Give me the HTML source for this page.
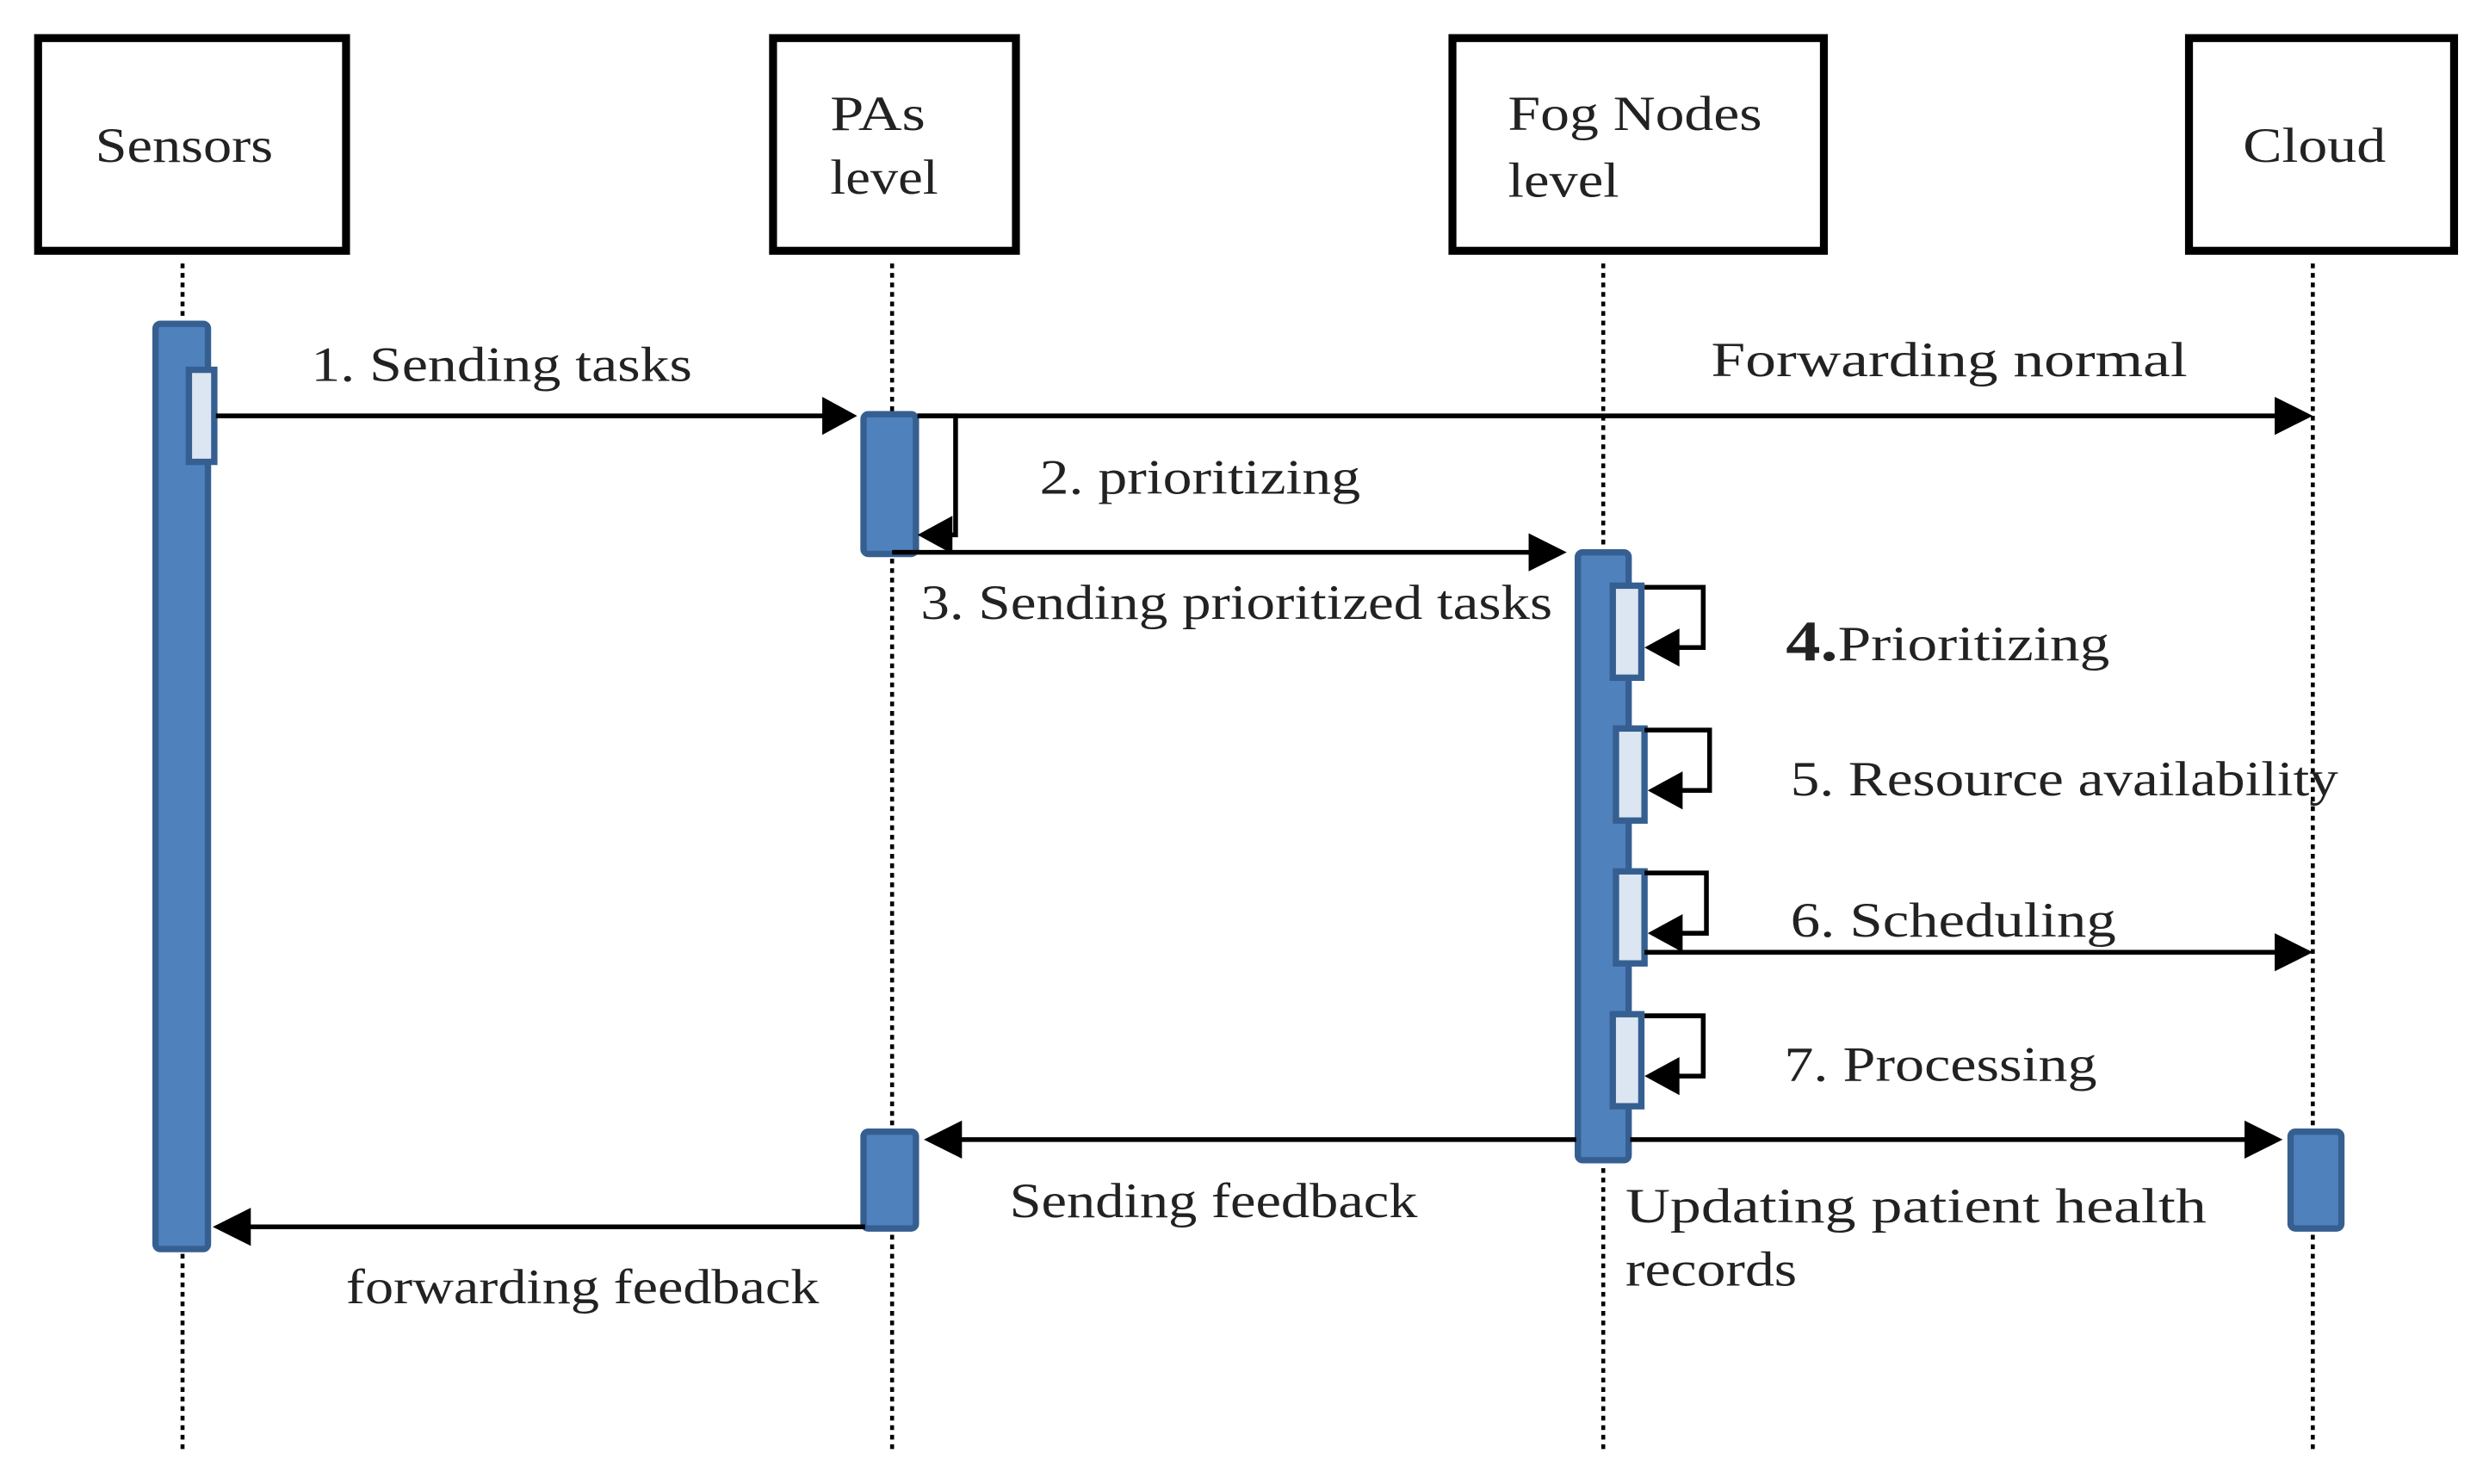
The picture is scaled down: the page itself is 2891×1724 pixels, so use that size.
<!DOCTYPE html>
<html><head><meta charset="utf-8"><style>
html,body{margin:0;padding:0;background:#fff;}
svg{display:block;}
text{font-family:"Liberation Serif",serif;font-size:31px;fill:#222;}
</style></head><body>
<svg width="2891" height="1724" viewBox="0 0 1568 935" preserveAspectRatio="none" xmlns="http://www.w3.org/2000/svg">
<defs>
<marker id="ah" markerWidth="10" markerHeight="10" refX="9" refY="5" orient="auto" markerUnits="userSpaceOnUse" viewBox="0 0 10 10">
</marker>
</defs>
<g fill="#fff" stroke="#000" stroke-width="5">
<rect x="24" y="24" width="194" height="134"/>
<rect x="487" y="24" width="153" height="134"/>
<rect x="915" y="24" width="234" height="134"/>
<rect x="1379" y="24" width="167" height="134"/>
</g>
<text x="60" y="102" textLength="112" lengthAdjust="spacingAndGlyphs">Sensors</text>
<text x="523" y="82" textLength="60" lengthAdjust="spacingAndGlyphs">PAs</text>
<text x="523" y="122" textLength="68" lengthAdjust="spacingAndGlyphs">level</text>
<text x="950" y="82" textLength="160" lengthAdjust="spacingAndGlyphs">Fog Nodes</text>
<text x="950" y="124" textLength="70" lengthAdjust="spacingAndGlyphs">level</text>
<text x="1413" y="102" textLength="90" lengthAdjust="spacingAndGlyphs">Cloud</text>
<g stroke="#000" stroke-width="2.5" stroke-dasharray="3,3">
<line x1="115" y1="166" x2="115" y2="915"/>
<line x1="562" y1="166" x2="562" y2="915"/>
<line x1="1010" y1="166" x2="1010" y2="915"/>
<line x1="1457" y1="166" x2="1457" y2="915"/>
</g>
<g fill="#4f81bd" stroke="#365f91" stroke-width="4">
<rect x="98" y="204" width="33" height="583" rx="3"/>
<rect x="544" y="261" width="33" height="88" rx="3"/>
<rect x="544" y="713" width="33" height="61" rx="3"/>
<rect x="994" y="348" width="32" height="383" rx="3"/>
<rect x="1443" y="713" width="32" height="61" rx="3"/>
</g>
<g fill="#dce6f2" stroke="#365f91" stroke-width="4">
<rect x="119" y="233" width="16" height="58"/>
<rect x="1016" y="369" width="18" height="58"/>
<rect x="1018" y="459" width="18" height="58"/>
<rect x="1018" y="549" width="18" height="58"/>
<rect x="1016" y="639" width="18" height="58"/>
</g>
<g stroke="#000" stroke-width="3" fill="none">
<line x1="136" y1="262" x2="525" y2="262"/>
<line x1="578" y1="262" x2="1440" y2="262"/>
<polyline points="578,262 602,262 602,337 592,337"/>
<line x1="562" y1="348" x2="970" y2="348"/>
<polyline points="1036,370 1073,370 1073,408 1052,408"/>
<polyline points="1036,460 1077,460 1077,498 1056,498"/>
<polyline points="1036,550 1075,550 1075,588 1054,588"/>
<polyline points="1036,640 1073,640 1073,678 1052,678"/>
<line x1="1036" y1="600" x2="1440" y2="600"/>
<line x1="993" y1="718" x2="600" y2="718"/>
<line x1="1027" y1="718" x2="1422" y2="718"/>
<line x1="545" y1="773" x2="152" y2="773"/>
</g>
<g fill="#000">
<polygon points="540,262 518,250 518,274"/>
<polygon points="1457,262 1433,250 1433,274"/>
<polygon points="578,337 600,325 600,349"/>
<polygon points="987,348 963,336 963,360"/>
<polygon points="1036,408 1058,396 1058,420"/>
<polygon points="1038,498 1060,486 1060,510"/>
<polygon points="1038,588 1060,576 1060,600"/>
<polygon points="1036,678 1058,666 1058,690"/>
<polygon points="1457,600 1433,588 1433,612"/>
<polygon points="582,718 606,706 606,730"/>
<polygon points="1438,718 1414,706 1414,730"/>
<polygon points="134,773 158,761 158,785"/>
</g>
<text x="196" y="240" textLength="240" lengthAdjust="spacingAndGlyphs">1.  Sending tasks</text>
<text x="1078" y="237" textLength="300" lengthAdjust="spacingAndGlyphs">Forwarding    normal</text>
<text x="655" y="311" textLength="202" lengthAdjust="spacingAndGlyphs">2.  prioritizing</text>
<text x="580" y="390" textLength="398" lengthAdjust="spacingAndGlyphs">3.  Sending prioritized tasks</text>
<text x="1125" y="416" textLength="204" lengthAdjust="spacingAndGlyphs"><tspan font-size="36" font-weight="bold">4.</tspan>Prioritizing</text>
<text x="1128" y="501" textLength="345" lengthAdjust="spacingAndGlyphs">5.  Resource availability</text>
<text x="1128" y="590" textLength="205" lengthAdjust="spacingAndGlyphs">6.  Scheduling</text>
<text x="1124" y="681" textLength="197" lengthAdjust="spacingAndGlyphs">7.  Processing</text>
<text x="636" y="767" textLength="257" lengthAdjust="spacingAndGlyphs">Sending feedback</text>
<text x="1024" y="770" textLength="366" lengthAdjust="spacingAndGlyphs">Updating   patient   health</text>
<text x="1024" y="810" textLength="108" lengthAdjust="spacingAndGlyphs">records</text>
<text x="218" y="821" textLength="298" lengthAdjust="spacingAndGlyphs">forwarding feedback</text>
</svg>
</body></html>
